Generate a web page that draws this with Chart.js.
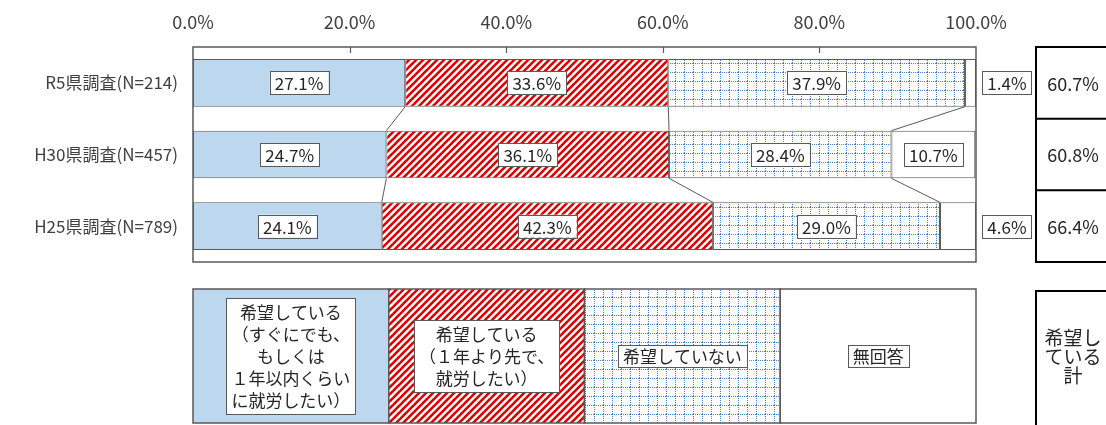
<!DOCTYPE html>
<html>
<head>
<meta charset="utf-8">
<script src="https://cdn.jsdelivr.net/npm/chart.js@4/dist/chart.umd.min.js"></script>
<style>
  body { margin: 0; background: #fff; }
  #wrap { width: 1106px; height: 425px; }
</style>
</head>
<body>
<div id="wrap"><canvas id="chart" width="1106" height="425"></canvas></div>
<script>
// survey rows
const categories = ['R5県調査(N=214)', 'H30県調査(N=457)', 'H25県調査(N=789)'];
// answers (%)
const wantSoon = [27.1, 24.7, 24.1];
const wantLater = [33.6, 36.1, 42.3];
const notWant = [37.9, 28.4, 29.0];
const noAnswer = [1.4, 10.7, 4.6];
const xTicks = [0, 20, 40, 60, 80, 100];

const legendLabels = [
    ['希望している', '（すぐにでも、', 'もしくは', '１年以内くらい', 'に就労したい）'],
    ['希望している', '（１年より先で、', '就労したい）'],
    ['希望していない'],
    ['無回答']
];
const totalHeader = ['希望し', 'ている', '計'];

const FONT = '"Noto Sans CJK JP", "Noto Sans", sans-serif';
const EDGE = '#595959';

document.addEventListener('DOMContentLoaded', function() {
    const ctx = document.getElementById('chart').getContext('2d');

    function hatchPattern() {
        const c = document.createElement('canvas');
        const s = 7;
        c.width = s; c.height = s;
        const g = c.getContext('2d');
        g.fillStyle = '#fff';
        g.fillRect(0, 0, s, s);
        g.strokeStyle = '#e00000';
        g.lineWidth = 2.6;
        for (const k of [-1, 0, 1]) {
            g.beginPath();
            g.moveTo(k * s - 1, s + 1);
            g.lineTo(k * s + s + 1, -1);
            g.stroke();
        }
        return ctx.createPattern(c, 'repeat');
    }

    function gridPattern() {
        const c = document.createElement('canvas');
        const s = 9;
        c.width = s; c.height = s;
        const g = c.getContext('2d');
        g.fillStyle = '#fff';
        g.fillRect(0, 0, s, s);
        g.fillStyle = 'rgba(46,110,190,0.85)';
        for (let i = 0; i < s; i += 2) {
            g.fillRect(i, 0, 1, 1);
            g.fillRect(0, i, 1, 1);
        }
        return ctx.createPattern(c, 'repeat');
    }

    const fills = ['#bdd7ee', hatchPattern(), gridPattern(), '#ffffff'];
    const series = [wantSoon, wantLater, notWant, noAnswer];

    function labelBox(c, text, cx, cy, size, pad, h) {
        c.font = size + 'px ' + FONT;
        const w = c.measureText(text).width + pad * 2;
        c.fillStyle = '#fff';
        c.fillRect(cx - w / 2, cy - h / 2, w, h);
        c.strokeStyle = EDGE;
        c.lineWidth = 1;
        c.strokeRect(Math.round(cx - w / 2) + 0.5, Math.round(cy - h / 2) + 0.5, Math.round(w), h);
        c.fillStyle = '#262626';
        c.textAlign = 'center';
        c.textBaseline = 'middle';
        c.fillText(text, cx, cy + 1);
    }

    const extras = {
        id: 'extras',
        afterDatasetsDraw(chart) {
            const c = chart.ctx;
            const a = chart.chartArea;
            const xs = chart.scales.x;
            const ys = chart.scales.y;
            c.save();

            // series lines between bars
            c.strokeStyle = EDGE;
            c.lineWidth = 1;
            for (let d = 0; d < 3; d++) {
                const els = chart.getDatasetMeta(d).data;
                for (let i = 0; i < els.length - 1; i++) {
                    const e1 = els[i], e2 = els[i + 1];
                    c.beginPath();
                    c.moveTo(e1.x, e1.y + e1.height / 2);
                    c.lineTo(e2.x, e2.y - e2.height / 2);
                    c.stroke();
                }
            }

            // plot frame + tick marks
            c.strokeStyle = EDGE;
            c.lineWidth = 1.5;
            c.strokeRect(a.left, a.top, a.right - a.left, a.bottom - a.top);
            c.lineWidth = 1.2;
            xTicks.slice(1, -1).forEach(v => {
                const px = Math.round(xs.getPixelForValue(v)) + 0.5;
                c.beginPath();
                c.moveTo(px, a.top);
                c.lineTo(px, a.top + 6);
                c.stroke();
            });

            // value labels
            series.forEach((vals, d) => {
                const els = chart.getDatasetMeta(d).data;
                vals.forEach((v, i) => {
                    const e = els[i];
                    let cx = (e.x + e.base) / 2;
                    if (v < 5) cx = a.right + 31;
                    labelBox(c, v.toFixed(1) + '%', cx, e.y, 17, 5, 23);
                });
            });

            // right table of totals
            const rowH = (a.bottom - a.top) / categories.length;
            const tl = 1036, tr = 1114;
            c.strokeStyle = '#000';
            c.lineWidth = 2;
            c.strokeRect(tl, a.top, tr - tl, a.bottom - a.top);
            for (let i = 1; i < categories.length; i++) {
                c.beginPath();
                c.moveTo(tl, a.top + rowH * i);
                c.lineTo(tr, a.top + rowH * i);
                c.stroke();
            }
            c.fillStyle = '#262626';
            c.font = '18px ' + FONT;
            c.textAlign = 'center';
            c.textBaseline = 'middle';
            categories.forEach((cat, i) => {
                const total = wantSoon[i] + wantLater[i];
                c.fillText(total.toFixed(1) + '%', 1073, ys.getPixelForValue(i) + 1);
            });

            // legend bar
            const lt = 289, lb = 423, lmid = (lt + lb) / 2;
            for (let k = 0; k < 4; k++) {
                const x0 = xs.getPixelForValue(k * 25);
                const x1 = xs.getPixelForValue((k + 1) * 25);
                c.fillStyle = fills[k];
                c.fillRect(x0, lt, x1 - x0, lb - lt);
                c.strokeStyle = EDGE;
                c.lineWidth = 1.5;
                c.strokeRect(x0, lt, x1 - x0, lb - lt);
                const lines = legendLabels[k];
                const lh = 22;
                c.font = '17px ' + FONT;
                const w = Math.max(...lines.map(t => c.measureText(t).width)) + 10;
                const h = lines.length * lh + (lines.length > 1 ? 6 : 0);
                const cx = (x0 + x1) / 2;
                c.fillStyle = '#fff';
                c.fillRect(cx - w / 2, lmid - h / 2, w, h);
                c.lineWidth = 1;
                c.strokeRect(Math.round(cx - w / 2) + 0.5, Math.round(lmid - h / 2) + 0.5, Math.round(w), Math.round(h));
                c.fillStyle = '#262626';
                c.textAlign = 'center';
                c.textBaseline = 'middle';
                lines.forEach((t, j) => {
                    c.fillText(t, cx, lmid - h / 2 + (lines.length > 1 ? 3 : 0) + lh * (j + 0.5) + 1);
                });
            }

            // legend total cell
            c.strokeStyle = '#000';
            c.lineWidth = 2;
            c.strokeRect(tl, 291, tr - tl, 150);
            c.fillStyle = '#262626';
            c.font = '19px ' + FONT;
            totalHeader.forEach((t, j) => {
                c.fillText(t, 1073, 338 + j * 19);
            });
            c.restore();
        }
    };

    new Chart(ctx, {
        type: 'bar',
        data: {
            labels: categories,
            datasets: series.map((vals, d) => ({
                data: vals,
                backgroundColor: fills[d],
                borderColor: EDGE,
                borderWidth: 1,
                borderSkipped: false,
                barPercentage: 0.665,
                categoryPercentage: 1
            }))
        },
        options: {
            indexAxis: 'y',
            responsive: false,
            animation: false,
            devicePixelRatio: 1,
            layout: { padding: { left: 0, top: 0, right: 130, bottom: 163 } },
            plugins: {
                legend: { display: false },
                tooltip: { enabled: false }
            },
            scales: {
                x: {
                    position: 'top',
                    stacked: true,
                    min: 0,
                    max: 100,
                    afterBuildTicks(s) { s.ticks = xTicks.map(v => ({ value: v })); },
                    ticks: {
                        callback: v => v.toFixed(1) + '%',
                        font: { size: 18, family: FONT },
                        color: '#404040',
                        padding: 14,
                        maxRotation: 0
                    },
                    grid: { display: false, drawTicks: false },
                    border: { display: false },
                    afterFit(s) { s.height = 47; }
                },
                y: {
                    stacked: true,
                    ticks: {
                        font: { size: 17, family: FONT },
                        color: '#404040',
                        padding: 15
                    },
                    grid: { display: false, drawTicks: false },
                    border: { display: false },
                    afterFit(s) { s.width = 193; }
                }
            }
        },
        plugins: [extras]
    });
});
</script>
</body>
</html>
